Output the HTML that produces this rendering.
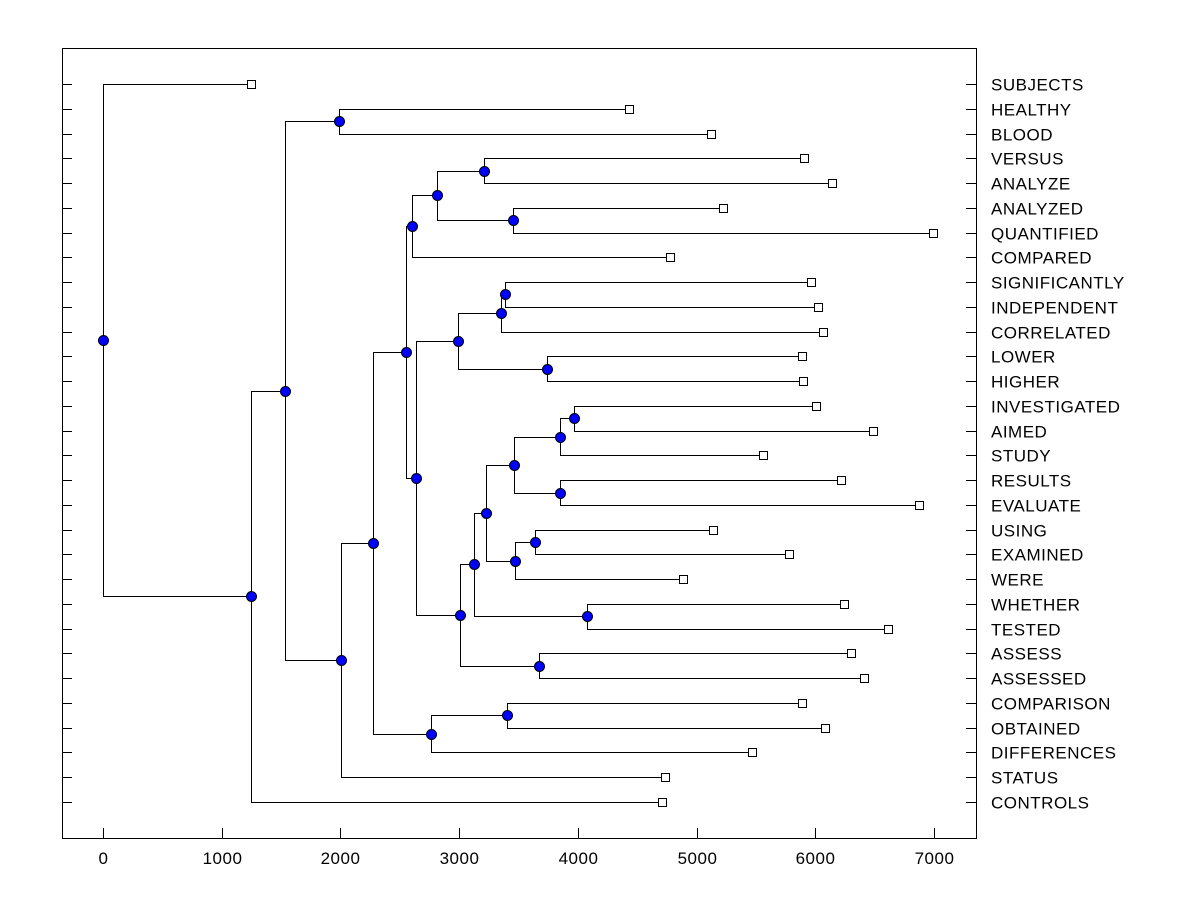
<!DOCTYPE html>
<html><head><meta charset="utf-8"><style>
html,body{margin:0;padding:0;background:#fff;}
svg{display:block;font-family:"Liberation Sans",Arial,sans-serif;}
</style></head><body>
<svg id="chart" width="1200" height="900" viewBox="0 0 1200 900"></svg>
<script>
const leafNames = ["SUBJECTS","HEALTHY","BLOOD","VERSUS","ANALYZE","ANALYZED","QUANTIFIED","COMPARED","SIGNIFICANTLY","INDEPENDENT","CORRELATED","LOWER","HIGHER","INVESTIGATED","AIMED","STUDY","RESULTS","EVALUATE","USING","EXAMINED","WERE","WHETHER","TESTED","ASSESS","ASSESSED","COMPARISON","OBTAINED","DIFFERENCES","STATUS","CONTROLS"];
const leafValues = [1247,4431,5122,5906,6141,5223,6992,4777,5965,6023,6066,5889,5897,6007,6487,5560,6217,6874,5139,5779,4886,6243,6613,6302,6411,5889,6083,5468,4735,4709];
const nodeIds = ["C","L","M","K","I","R","P","Q","N","AA","Y","Z","W","BB","X","U","V","S","T","O","J","F","H","G","E","D","B","A","root"];
const nodeHeights = [1988,3210,3454,2814,2603,3387,3353,3740,2991,3968,3850,3850,3462,3639,3471,3227,4077,3125,3673,3008,2637,2553,3403,2763,2275,2005,1533,1247,0];
const nodeChildren = [["L1","L2"],["L3","L4"],["L5","L6"],["L","M"],["K","L7"],["L8","L9"],["R","L10"],["L11","L12"],["P","Q"],["L13","L14"],["AA","L15"],["L16","L17"],["Y","Z"],["L18","L19"],["BB","L20"],["W","X"],["L21","L22"],["U","V"],["L23","L24"],["S","T"],["N","O"],["I","J"],["L25","L26"],["H","L27"],["F","G"],["E","L28"],["C","D"],["B","L29"],["L0","A"]];
const xTicks = [0,1000,2000,3000,4000,5000,6000,7000];

const NS="http://www.w3.org/2000/svg";
const svg=document.getElementById('chart');
const X0=62,X1=976,Y0=48,Y1=838;
const xs=v=>103+v*(831/7000);
const ys=i=>84+i*(718/29);
function mk(tag,attrs,parent){const e=document.createElementNS(NS,tag);for(const k in attrs)e.setAttribute(k,attrs[k]);(parent||svg).appendChild(e);return e;}

const frame=mk('rect',{x:X0+0.5,y:Y0+0.5,width:X1-X0,height:Y1-Y0,fill:'none',stroke:'#000','stroke-width':1});



const gx=mk('g',{});


xTicks.forEach(t=>{
  const x=Math.round(xs(t))+0.5;
  const tk=mk('line',{x1:x,x2:x,y1:Y1,y2:Y1-10,stroke:'#000'},gx);
  
  
  const tl=mk('text',{x:x,y:864,'text-anchor':'middle','font-size':17,'letter-spacing':0.5},gx);
  tl.textContent=t;
  
  
});

const gy=mk('g',{});


leafNames.forEach((n,i)=>{
  const y=Math.round(ys(i))+0.5;
  const a=mk('line',{x1:X0,x2:X0+10,y1:y,y2:y,stroke:'#000'},gy);
  
  
  const b=mk('line',{x1:X1-10,x2:X1,y1:y,y2:y,stroke:'#000'},gy);
  
  
  const t=mk('text',{x:991,y:y+6,'font-size':17,'letter-spacing':0.5},gy);
  t.textContent=n;
  
  
});

const info={};
leafValues.forEach((v,i)=>{info['L'+i]={x:xs(v),y:ys(i)};});
const idx={};nodeIds.forEach((id,i)=>idx[id]=i);
function resolve(id){
  if(info[id])return info[id];
  const i=idx[id];const a=resolve(nodeChildren[i][0]),b=resolve(nodeChildren[i][1]);
  info[id]={x:xs(nodeHeights[i]),y:(a.y+b.y)/2,a:a,b:b};return info[id];
}
nodeIds.forEach(resolve);

const gl=mk('g',{});


nodeIds.forEach(id=>{
  const n=info[id];
  const px=Math.round(n.x)+0.5;
  const p=mk('path',{d:`M${Math.round(n.a.x)+0.5},${Math.round(n.a.y)+0.5}H${px}V${Math.round(n.b.y)+0.5}H${Math.round(n.b.x)+0.5}`,fill:'none',stroke:'#000','stroke-width':1},gl);
  
  
});
leafValues.forEach((v,i)=>{
  const n=info['L'+i];
  const r=mk('rect',{x:Math.round(n.x)-3.5,y:Math.round(n.y)-3.5,width:8,height:8,fill:'#fff',stroke:'#000'});
  
  
});
nodeIds.forEach(id=>{
  const n=info[id];
  const c=mk('circle',{cx:Math.round(n.x)+0.5,cy:Math.round(n.y)+0.5,r:5,fill:'#0000ff',stroke:'#000'});
  
  
});
</script>
</body></html>
